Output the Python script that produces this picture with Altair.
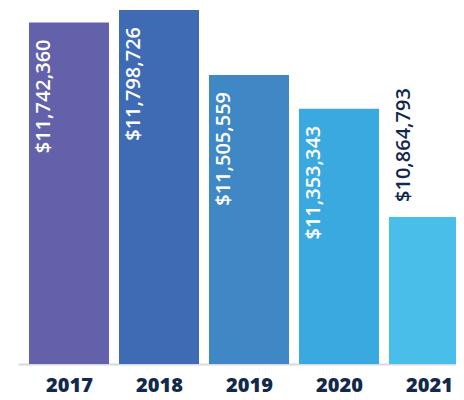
import altair as alt
import pandas as pd

years = [2017, 2018, 2019, 2020, 2021]
values = [11742360, 11798726, 11505559, 11353343, 10864793]
colors = ["#6361AA", "#3E6BB4", "#3F87C5", "#3AA9DF", "#49BEE8"]
inside = [True, True, True, True, False]

df = pd.DataFrame({"yr": years, "value": values, "inside": inside})

y_lo = 10201500
y_hi = 11807700
x_lo = 2016.4333
x_hi = 2021.3
half_bar = 0.4444

x_scale = alt.Scale(domain=[x_lo, x_hi], nice=False, zero=False)
x_axis = alt.Axis(
    values=years,
    format="d",
    labelAngle=0,
    labelFont="Open Sans",
    labelFontSize=20,
    labelFontWeight=800,
    labelColor="#13294B",
    labelPadding=11,
    labelFlush=False,
    labelOverlap=False,
    ticks=False,
    domainColor="#D9D9D9",
    domainWidth=2,
    grid=False,
)
y_scale = alt.Scale(domain=[y_lo, y_hi], zero=False, nice=False)

base = alt.Chart(df).transform_calculate(
    x0=f"datum.yr - {half_bar}", x1=f"datum.yr + {half_bar}"
)

bars = base.mark_bar(clip=True).encode(
    x=alt.X("x0:Q", title=None, scale=x_scale, axis=x_axis),
    x2="x1:Q",
    y=alt.Y("value:Q", scale=y_scale, axis=None),
    y2=alt.datum(y_lo),
    color=alt.Color("yr:O", scale=alt.Scale(domain=years, range=colors), legend=None),
)

labels_in = base.transform_filter("datum.inside").mark_text(
    angle=270, align="right", baseline="middle", dx=-17, xOffset=-25,
    font="Open Sans", fontSize=20, fontWeight=600, color="white",
).encode(
    x=alt.X("yr:Q", scale=x_scale, axis=x_axis, title=None),
    y=alt.Y("value:Q", scale=y_scale, axis=None),
    text=alt.Text("value:Q", format="$,d"),
)

labels_out = base.transform_filter("!datum.inside").mark_text(
    angle=270, align="left", baseline="middle", dx=15, xOffset=-25,
    font="Open Sans", fontSize=20, fontWeight=600, color="#13294B",
).encode(
    x=alt.X("yr:Q", scale=x_scale, axis=x_axis, title=None),
    y=alt.Y("value:Q", scale=y_scale, axis=None),
    text=alt.Text("value:Q", format="$,d"),
)

chart = (
    alt.layer(bars, labels_in, labels_out)
    .properties(
        width=438,
        height=356,
        autosize=alt.AutoSizeParams(type="none"),
        padding={"left": 10, "top": 0, "right": 0, "bottom": 28},
    )
    .configure_view(stroke=None)
)

chart.save("out.html", embed_options={"renderer": "svg", "actions": False})
